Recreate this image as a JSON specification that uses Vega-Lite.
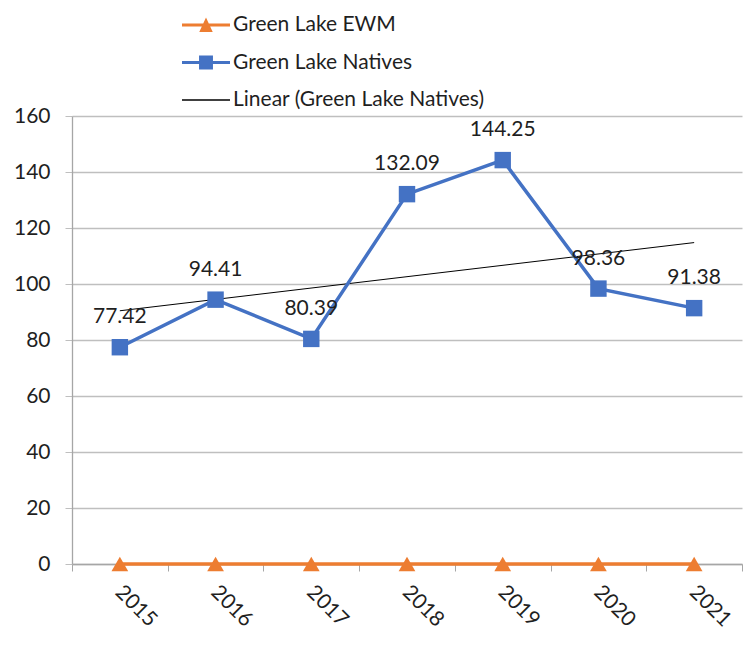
{
  "$schema": "https://vega.github.io/schema/vega-lite/v6.json",
  "autosize": "none",
  "width": 670,
  "height": 448,
  "padding": {"left": 72, "top": 116, "right": 13, "bottom": 93},
  "background": "white",
  "config": {
    "font": "Lato",
    "view": {"stroke": null},
    "axis": {"labelFont": "Lato", "labelFontSize": 21, "labelColor": "#1f1f1f", "title": null}
  },
  "datasets": {
    "series": [
      {"year": "2015", "series": "Green Lake EWM", "value": 0},
      {"year": "2016", "series": "Green Lake EWM", "value": 0},
      {"year": "2017", "series": "Green Lake EWM", "value": 0},
      {"year": "2018", "series": "Green Lake EWM", "value": 0},
      {"year": "2019", "series": "Green Lake EWM", "value": 0},
      {"year": "2020", "series": "Green Lake EWM", "value": 0},
      {"year": "2021", "series": "Green Lake EWM", "value": 0},
      {"year": "2015", "series": "Green Lake Natives", "value": 77.42},
      {"year": "2016", "series": "Green Lake Natives", "value": 94.41},
      {"year": "2017", "series": "Green Lake Natives", "value": 80.39},
      {"year": "2018", "series": "Green Lake Natives", "value": 132.09},
      {"year": "2019", "series": "Green Lake Natives", "value": 144.25},
      {"year": "2020", "series": "Green Lake Natives", "value": 98.36},
      {"year": "2021", "series": "Green Lake Natives", "value": 91.38}
    ],
    "trend": [
      {"year": "2015", "series": "Linear (Green Lake Natives)", "value": 90.44},
      {"year": "2021", "series": "Linear (Green Lake Natives)", "value": 114.79}
    ]
  },
  "encoding": {
    "x": {
      "field": "year", "type": "ordinal",
      "scale": {"domain": ["2015","2016","2017","2018","2019","2020","2021"], "paddingInner": 0, "paddingOuter": 0},
      "axis": {
        "labelAngle": 45, "labelAlign": "left", "labelBaseline": "top",
        "labelOffset": 6, "labelPadding": 10,
        "tickBand": "extent", "tickSize": 7, "tickColor": "#a6a6a6",
        "domainColor": "#a6a6a6", "domainWidth": 1.3, "grid": false
      }
    },
    "y": {
      "field": "value", "type": "quantitative",
      "scale": {"domain": [0, 160], "nice": false, "zero": true},
      "axis": {
        "values": [0,20,40,60,80,100,120,140,160],
        "tickSize": 7, "tickColor": "#bfbfbf", "labelPadding": 15,
        "domainColor": "#a6a6a6", "domainWidth": 1.3,
        "grid": true, "gridColor": "#bfbfbf", "gridWidth": 1.3
      }
    }
  },
  "layer": [
    {
      "data": {"name": "trend"},
      "mark": {"type": "line", "color": "#000000", "strokeWidth": 1},
      "encoding": {}
    },
    {
      "data": {"name": "series"},
      "transform": [{"filter": "datum.series === 'Green Lake EWM'"}],
      "mark": {"type": "line", "color": "#ED7D31", "strokeWidth": 3.5}
    },
    {
      "data": {"name": "series"},
      "transform": [{"filter": "datum.series === 'Green Lake Natives'"}],
      "mark": {"type": "line", "color": "#4472C4", "strokeWidth": 3.5}
    },
    {
      "data": {"name": "series"},
      "transform": [{"filter": "datum.series === 'Green Lake EWM'"}],
      "mark": {"type": "point", "shape": "triangle-up", "filled": true, "size": 280, "color": "#ED7D31", "opacity": 1}
    },
    {
      "data": {"name": "series"},
      "transform": [{"filter": "datum.series === 'Green Lake Natives'"}],
      "mark": {"type": "point", "shape": "square", "filled": true, "size": 270, "color": "#4472C4", "opacity": 1}
    },
    {
      "data": {"name": "series"},
      "transform": [{"filter": "datum.series === 'Green Lake Natives'"}],
      "mark": {"type": "text", "font": "Lato", "fontSize": 21, "color": "#1f1f1f", "baseline": "alphabetic", "align": "center", "dy": -24},
      "encoding": {"text": {"field": "value", "type": "quantitative", "format": ".2f"}}
    },
    {
      "data": {"name": "series"},
      "mark": {"type": "point", "filled": true, "opacity": 0},
      "encoding": {
        "color": {
          "field": "series", "type": "nominal",
          "scale": {"domain": ["Green Lake EWM", "Green Lake Natives", "Linear (Green Lake Natives)"], "range": ["#ED7D31", "#4472C4", "#000000"]},
          "legend": {
            "title": null, "orient": "none", "legendX": 110, "legendY": -115, "direction": "vertical",
            "labelFont": "Lato", "labelFontSize": 21, "labelColor": "#1f1f1f", "labelOffset": 3, "labelLimit": 500,
            "symbolSize": 2304, "symbolStrokeWidth": 0, "rowPadding": 3.5,
            "encode": {"symbols": {"update": {"opacity": {"value": 1}, "strokeWidth": {"value": 0}}}}
          }
        },
        "shape": {
          "field": "series", "type": "nominal",
          "scale": {"domain": ["Green Lake EWM", "Green Lake Natives", "Linear (Green Lake Natives)"],
            "range": [
              "M-1,-0.0625H1V0.0625H-1Z M-0.28,0.29L0,-0.31L0.28,0.29Z",
              "M-1,-0.0625H1V0.0625H-1Z M-0.29,-0.29H0.29V0.29H-0.29Z",
              "M-1,-0.03H1V0.03H-1Z"
            ]},
          "legend": {
            "title": null, "orient": "none", "legendX": 110, "legendY": -115, "direction": "vertical",
            "labelFont": "Lato", "labelFontSize": 21, "labelColor": "#1f1f1f", "labelOffset": 3, "labelLimit": 500,
            "symbolSize": 2304, "symbolStrokeWidth": 0, "rowPadding": 3.5,
            "encode": {"symbols": {"update": {"opacity": {"value": 1}, "strokeWidth": {"value": 0}}}}
          }
        }
      }
    }
  ]
}
